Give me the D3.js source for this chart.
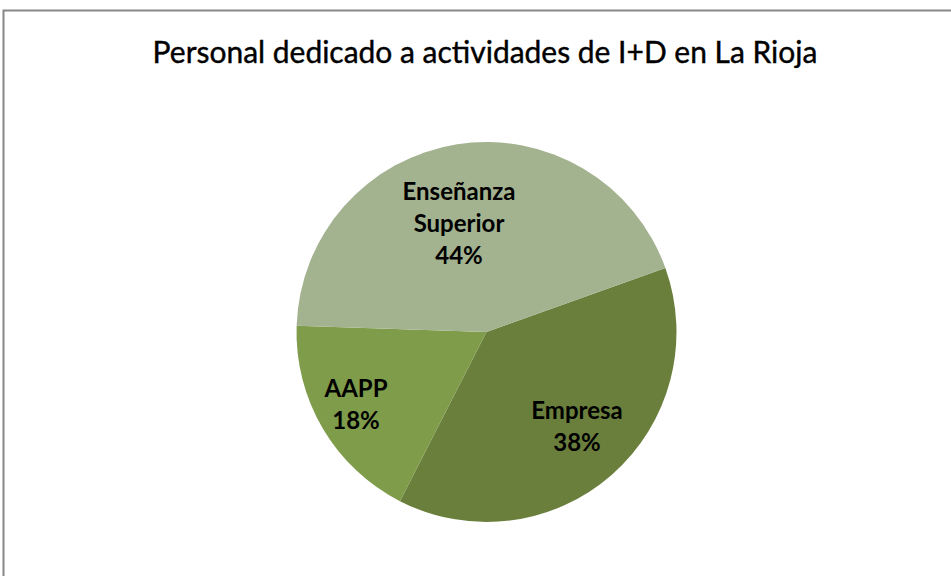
<!DOCTYPE html>
<html>
<head>
<meta charset="utf-8">
<script src="https://cdn.jsdelivr.net/npm/d3@7"></script>
<style>
  body { margin: 0; background: #fff; }
  svg { display: block; }
</style>
</head>
<body>
<div id="chart"></div>
<script>
// datos del grafico
const categorias = ["Empresa", "AAPP", "Enseñanza Superior"];
const valores = [38, 18, 44];
const colores = ["#6b7f3d", "#7f9c4b", "#a3b28f"];
const titulo = "Personal dedicado a actividades de I+D en La Rioja";

var width = 951, height = 576;
var svg = d3.select("#chart").append("svg")
    .attr("width", width)
    .attr("height", height);

// marco del area del grafico
svg.append("rect")
    .attr("x", 3.5).attr("y", 10.5)
    .attr("width", 1000).attr("height", 600)
    .attr("fill", "none")
    .attr("stroke", "#878787")
    .attr("stroke-width", 2);

var tit = svg.append("text")
    .attr("x", 485).attr("y", 63)
    .attr("text-anchor", "middle")
    .style("font-family", "Lato, 'Open Sans', sans-serif")
    .style("font-size", "26px")
    .style("fill", "#000")
    .style("stroke", "#000")
    .style("stroke-width", 0.4)
    .text(titulo);
// ajustar al ancho del original (~665px)
var w = tit.node().getComputedTextLength();
tit.style("font-size", (26 * 665 / w) + "px");

var cx = 486.5, cy = 332, radio = 190;
var g = svg.append("g").attr("transform", "translate(" + cx + "," + cy + ")");

var inicio = 70.3 * Math.PI / 180;
var pie = d3.pie().sort(null).value(d => d)
    .startAngle(inicio).endAngle(inicio + 2 * Math.PI);
var arco = d3.arc().innerRadius(0).outerRadius(radio);
var arcos = pie(valores);

g.selectAll("path")
    .data(arcos)
    .enter()
    .append("path")
    .attr("d", arco)
    .attr("fill", (d, i) => colores[i]);

var etiquetas = [
    { lineas: ["Empresa", "38%"], x: 577, y: 419 },
    { lineas: ["AAPP", "18%"], x: 356, y: 397 },
    { lineas: ["Enseñanza", "Superior", "44%"], x: 459, y: 200 }
];
// tamaño de letra ajustado a "Enseñanza" (~113px)
var prueba = svg.append("text")
    .style("font-family", "Lato, 'Open Sans', sans-serif")
    .style("font-weight", "bold")
    .style("font-size", "20px")
    .text("Enseñanza");
var tam = 20 * 113 / prueba.node().getComputedTextLength();
prueba.remove();

etiquetas.forEach(function (e) {
    var t = svg.append("text")
        .attr("text-anchor", "middle")
        .style("font-family", "Lato, 'Open Sans', sans-serif")
        .style("font-weight", "bold")
        .style("font-size", tam + "px")
        .style("fill", "#000");
    e.lineas.forEach(function (l, i) {
        t.append("tspan").attr("x", e.x).attr("y", e.y + i * 32).text(l);
    });
});
</script>
</body>
</html>
